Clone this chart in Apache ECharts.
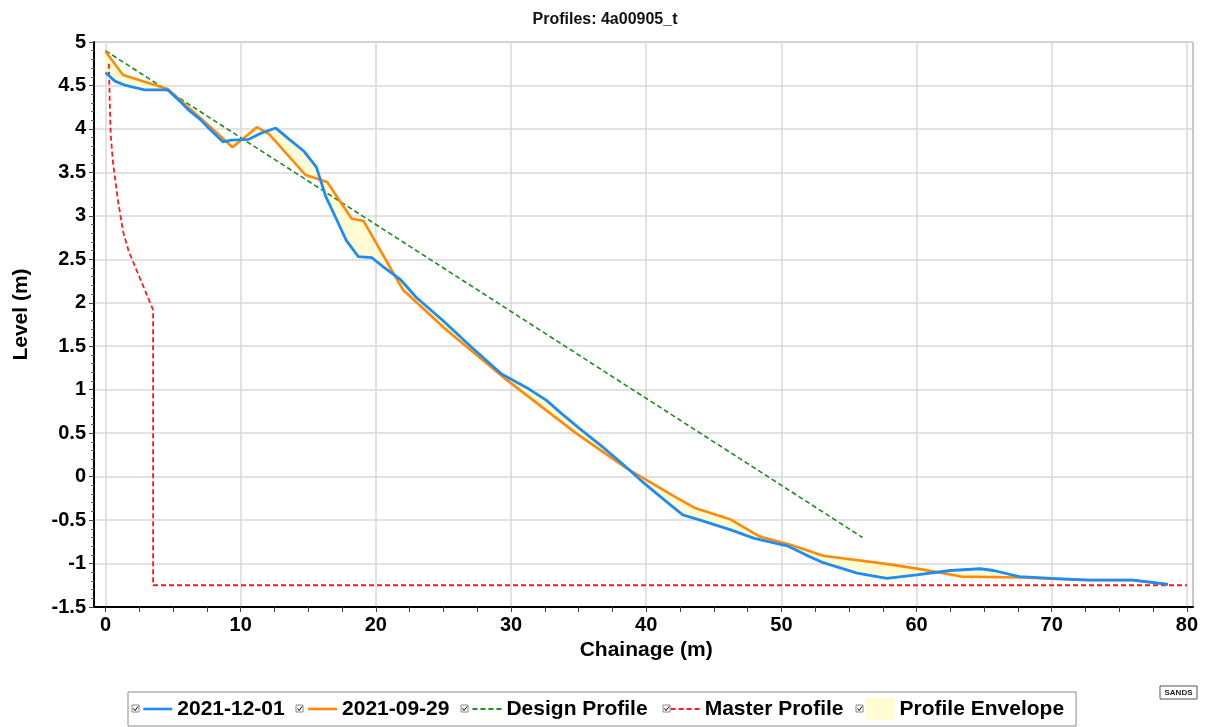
<!DOCTYPE html>
<html>
<head>
<meta charset="utf-8">
<title>Profiles: 4a00905_t</title>
<script src="https://cdn.jsdelivr.net/npm/echarts@6/dist/echarts.min.js"></script>
<style>
  html, body { margin: 0; padding: 0; background: #fff; }
  #chart { width: 1210px; height: 727px; }
</style>
</head>
<body>
<div id="chart"></div>
<script>
// profile surveys, [chainage (m), level (m)]
const survey20211201 = [
  [0, 4.65], [0.7, 4.55], [1.5, 4.5], [2.9, 4.45], [4.6, 4.45], [5.5, 4.32],
  [6.2, 4.21], [7.0, 4.11], [7.7, 4.0], [8.7, 3.85], [9.3, 3.87], [10.6, 3.88],
  [11.5, 3.95], [12.6, 4.01], [13.6, 3.88], [14.7, 3.74], [15.6, 3.56], [16.3, 3.22],
  [17.0, 2.99], [17.8, 2.72], [18.7, 2.53], [19.7, 2.52], [20.5, 2.42], [21.8, 2.27],
  [23.0, 2.06], [25.0, 1.79], [27.0, 1.5], [29.3, 1.18], [31.3, 1.01], [32.6, 0.88],
  [33.7, 0.73], [35.1, 0.55], [36.7, 0.35], [38.3, 0.14], [39.8, -0.07], [41.2, -0.25],
  [42.7, -0.44], [44.0, -0.5], [46.2, -0.61], [48.0, -0.71], [50.5, -0.8], [51.8, -0.9],
  [53.1, -0.99], [55.6, -1.11], [57.8, -1.17], [60.0, -1.13], [62.5, -1.08], [64.7, -1.06],
  [65.7, -1.08], [67.6, -1.15], [70.0, -1.17], [72.8, -1.19], [76.0, -1.19], [78.6, -1.24]
];
const survey20210929 = [
  [0, 4.89], [1.3, 4.62], [4.6, 4.46], [7.0, 4.13], [9.4, 3.79], [11.2, 4.02],
  [12.1, 3.94], [14.8, 3.47], [16.4, 3.39], [18.2, 2.97], [19.1, 2.94], [22.0, 2.15],
  [25.2, 1.69], [29.7, 1.11], [34.8, 0.5], [38.5, 0.1], [42.2, -0.24], [43.6, -0.36],
  [46.2, -0.49], [48.4, -0.69], [50.6, -0.78], [53.1, -0.91], [58.0, -1.01], [60.5, -1.07],
  [63.3, -1.15], [67.6, -1.16], [72.3, -1.19], [76.0, -1.19], [78.6, -1.24]
];
const designProfile = [[0, 4.9], [56, -0.7]];
const masterProfile = [
  [0.25, 4.75], [0.3, 4.4], [0.38, 3.95], [0.55, 3.62], [0.9, 3.2], [1.3, 2.82],
  [1.7, 2.6], [2.1, 2.45], [3.52, 1.92], [3.52, -1.25], [80, -1.25]
];
const seriesNames = ['2021-12-01', '2021-09-29', 'Design Profile', 'Master Profile', 'Profile Envelope'];
const xTickMin = 0, xTickMax = 80, xTickStep = 10;
const yMin = -1.5, yMax = 5, yStep = 0.5;

{
  let view = document.getElementById('chart')
  let chart = echarts.init(view)

  // plot frame runs a little past 0 and 80 on the chainage axis
  const frameMin = -0.85, frameMax = 80.45
  const left = 94, right = 17, top = 42, bottom = 120
  const k = (1210 - left - right) / (frameMax - frameMin)
  const tickLeft = left + (xTickMin - frameMin) * k
  const tickRight = right + (frameMax - xTickMax) * k

  const font = 'Liberation Sans, Arial, sans-serif'
  const gridColor = '#d9d9d9'
  const envColor = '#fffbd3'
  const blue = '#1e8cf0', orange = '#ff8a0a', green = '#1f8c1f', red = '#ff1a1a'

  // little ticked boxes in front of each legend entry
  const checkX = [132, 296, 461, 663, 856]
  const checkboxes = checkX.map(x => ({
    type: 'group', x: x, y: 705, z: 10,
    children: [
      { type: 'rect', shape: { x: 0, y: 0, width: 7, height: 7 }, style: { fill: '#fff', stroke: '#888', lineWidth: 1 } },
      { type: 'polyline', shape: { points: [[1.5, 3.5], [3, 5.5], [6, 1.5]] }, style: { stroke: '#000', lineWidth: 1, fill: null } }
    ]
  }))

  const hideDot = { opacity: 0 }

  let option = {
    backgroundColor: '#fff',
    animation: false,
    title: {
      text: 'Profiles: 4a00905_t',
      left: 'center',
      top: 7,
      textStyle: { fontFamily: font, fontSize: 16, fontWeight: 'bold', color: '#111' }
    },
    grid: [
      { left: left, right: right, top: top, bottom: bottom, show: true, borderColor: '#8c8c8c', borderWidth: 1 },
      { left: tickLeft, right: tickRight, top: top, bottom: bottom }
    ],
    legend: {
      data: [
        { name: seriesNames[0], itemStyle: hideDot, lineStyle: { width: 2.6, color: blue } },
        { name: seriesNames[1], itemStyle: hideDot, lineStyle: { width: 2.6, color: orange } },
        { name: seriesNames[2], itemStyle: hideDot },
        { name: seriesNames[3], itemStyle: hideDot },
        { name: seriesNames[4], icon: 'rect' }
      ],
      left: 128,
      top: 692,
      padding: [6, 12, 6, 14],
      itemWidth: 29,
      itemHeight: 22,
      itemGap: 22,
      selectedMode: false,
      borderColor: '#8a8a8a',
      borderWidth: 1,
      textStyle: { fontFamily: font, fontSize: 21, fontWeight: 'bold', color: '#000' }
    },
    xAxis: [
      {
        gridIndex: 0, type: 'value', min: frameMin, max: frameMax,
        axisLine: { onZero: false, lineStyle: { color: '#000', width: 2 } },
        axisTick: { show: false }, axisLabel: { show: false }, splitLine: { show: false }
      },
      {
        gridIndex: 1, type: 'value', min: xTickMin, max: xTickMax, interval: xTickStep,
        name: 'Chainage (m)', nameLocation: 'middle', nameGap: 33,
        nameTextStyle: { fontFamily: font, fontSize: 21, fontWeight: 'bold', color: '#000' },
        axisLine: { show: false, onZero: false },
        axisTick: { length: 5, lineStyle: { color: '#444' } },
        minorTick: { show: true, splitNumber: 4, length: 5, lineStyle: { color: '#444' } },
        axisLabel: { margin: 8, fontFamily: font, fontSize: 20, fontWeight: 'bold', color: '#000' },
        splitLine: { lineStyle: { color: gridColor, width: 1.5 } }
      }
    ],
    yAxis: [
      {
        gridIndex: 0, type: 'value', min: yMin, max: yMax, interval: yStep,
        name: 'Level (m)', nameLocation: 'middle', nameGap: 62,
        nameTextStyle: { fontFamily: font, fontSize: 21, fontWeight: 'bold', color: '#000', padding: [0, 0, 0, 20] },
        axisLine: { onZero: false, lineStyle: { color: '#000', width: 2 } },
        axisTick: { length: 5, lineStyle: { color: '#444' } },
        minorTick: { show: true, splitNumber: 5, length: 3, lineStyle: { color: '#666' } },
        axisLabel: { margin: 8, fontFamily: font, fontSize: 20, fontWeight: 'bold', color: '#000' },
        splitLine: { lineStyle: { color: gridColor, width: 1.5 } }
      },
      { gridIndex: 1, type: 'value', min: yMin, max: yMax, show: false }
    ],
    series: [
      {
        name: seriesNames[4],
        type: 'custom',
        xAxisIndex: 0, yAxisIndex: 0,
        clip: true,
        itemStyle: { color: envColor },
        data: [[0, 0]],
        renderItem(params, api) {
          let pts = survey20211201.map(p => api.coord(p))
            .concat(survey20210929.slice().reverse().map(p => api.coord(p)))
          return { type: 'polygon', shape: { points: pts }, style: { fill: envColor } }
        },
        z: 1
      },
      {
        name: seriesNames[3], type: 'line', xAxisIndex: 0, yAxisIndex: 0,
        data: masterProfile, symbol: 'none',
        lineStyle: { color: red, width: 1.8, type: [5, 3] },
        itemStyle: { color: red }, z: 3
      },
      {
        name: seriesNames[2], type: 'line', xAxisIndex: 0, yAxisIndex: 0,
        data: designProfile, symbol: 'none',
        lineStyle: { color: green, width: 1.6, type: [5, 3] },
        itemStyle: { color: green }, z: 3
      },
      {
        name: seriesNames[1], type: 'line', xAxisIndex: 0, yAxisIndex: 0,
        data: survey20210929, symbol: 'none',
        lineStyle: { color: orange, width: 2.6 },
        itemStyle: { color: orange }, z: 4
      },
      {
        name: seriesNames[0], type: 'line', xAxisIndex: 0, yAxisIndex: 0,
        data: survey20211201, symbol: 'none',
        lineStyle: { color: blue, width: 2.8 },
        itemStyle: { color: blue }, z: 5
      }
    ],
    graphic: checkboxes.concat([
      {
        type: 'group', x: 1160, y: 686,
        children: [
          { type: 'rect', shape: { x: 0, y: 0, width: 37, height: 13 }, style: { fill: '#fff', stroke: '#555', lineWidth: 1 } },
          { type: 'text', x: 18.5, y: 7, style: { text: 'SANDS', fontFamily: font, fontSize: 8, fontWeight: 'bold', fill: '#222', align: 'center', verticalAlign: 'middle' } }
        ]
      }
    ])
  }
  chart.setOption(option)
}
</script>
</body>
</html>
